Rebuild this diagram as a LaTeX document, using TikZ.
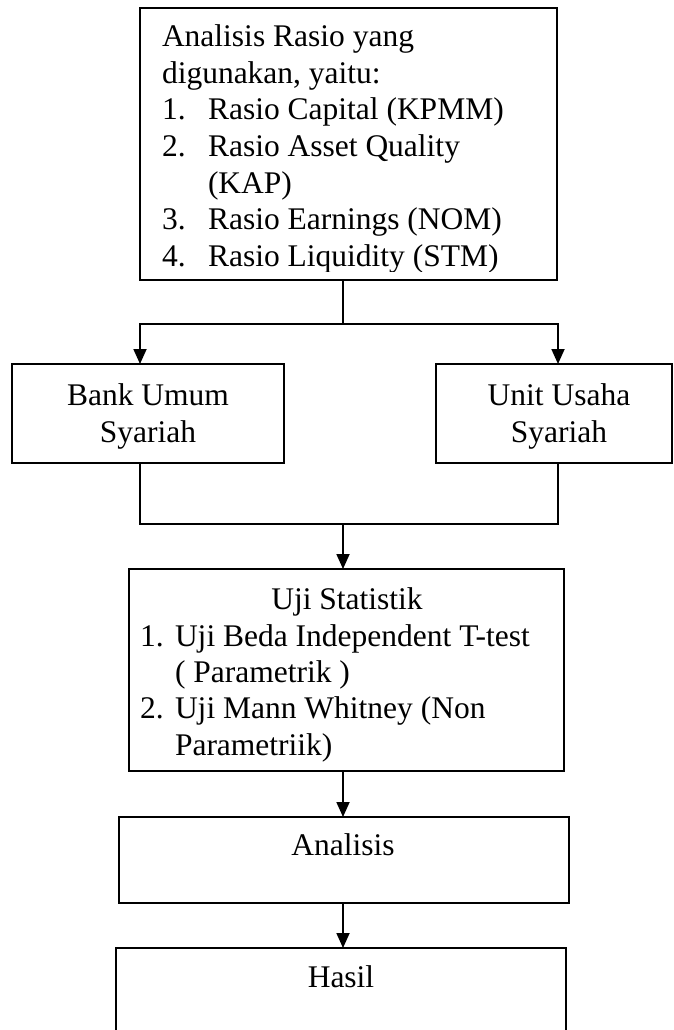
\documentclass[tikz,border=0pt]{standalone}
\usepackage{fontspec}
\setmainfont{Liberation Serif}
\usetikzlibrary{arrows.meta}
\tikzset{
  box/.style={draw=black, line width=1.8pt, inner sep=0pt, outer sep=0pt, anchor=north west, fill=white},
  conn/.style={draw=black, line width=1.8pt},
  arr/.style={conn, -{Triangle[length=15pt,width=13pt]}},
  txt/.style={inner sep=0pt, outer sep=0pt, anchor=base west, font=\fontsize{31.5}{36.5}\selectfont},
  ctxt/.style={txt, anchor=base}
}
\begin{document}
\begin{tikzpicture}[x=1pt,y=-1pt]
\useasboundingbox (0,0) rectangle (673,1030);
% boxes
\node[box, minimum width=417pt, minimum height=272pt] (T) at (140,8) {};
\node[box, minimum width=272pt, minimum height=99pt] (L) at (12,364) {};
\node[box, minimum width=236pt, minimum height=99pt] (R) at (436,364) {};
\node[box, minimum width=435pt, minimum height=202pt] (U) at (129,569) {};
\node[box, minimum width=450pt, minimum height=86pt] (A) at (119,817) {};
\node[box, minimum width=450pt, minimum height=110pt] (H) at (116,948) {};
% helper coordinates
\coordinate (xl) at (140,0);
\coordinate (xr) at (558,0);
\coordinate (J1) at (343,324);
\coordinate (J2) at (343,524);
% top box text (clipped like the original)
\begin{scope}
\clip (140,8) rectangle (557,271);
\node[txt] (t1) at (162,47) {Analisis Rasio yang};
\node[txt] (t2) at (162,83.5) {digunakan, yaitu:};
\node[txt] (n1) at (162,120) {1.};
\node[txt] (i1) at (208,120) {Rasio Capital (KPMM)};
\node[txt] (n2) at (162,156.5) {2.};
\node[txt] (i2) at (208,156.5) {Rasio Asset Quality};
\node[txt] (i2b) at (208,193) {(KAP)};
\node[txt] (n3) at (162,229.5) {3.};
\node[txt] (i3) at (208,229.5) {Rasio Earnings (NOM)};
\node[txt] (n4) at (162,266) {4.};
\node[txt] (i4) at (208,266) {Rasio Liquidity (STM)};
\end{scope}
% left / right boxes text
\node[ctxt] (l1) at (148,405) {Bank Umum};
\node[ctxt] (l2) at (148,442) {Syariah};
\node[ctxt] (r1) at (559,405) {Unit Usaha};
\node[ctxt] (r2) at (559,442) {Syariah};
% uji box text
\node[ctxt] (u0) at (347,609) {Uji Statistik};
\node[txt] (un1) at (140,646) {1.};
\node[txt] (u1) at (175,646) {Uji Beda Independent T-test};
\node[txt] (u1b) at (175,682) {( Parametrik )};
\node[txt] (un2) at (140,718) {2.};
\node[txt] (u2) at (175,718) {Uji Mann Whitney (Non};
\node[txt] (u2b) at (175,755) {Parametriik)};
% analisis / hasil text
\node[ctxt] (a1) at (343,855) {Analisis};
\node[ctxt] (h1) at (341,987) {Hasil};
% connectors
\draw[conn] (T.south -| J1) -- (J1);
\draw[arr] (J1) -| (L.north -| xl);
\draw[arr] (J1) -| (R.north -| xr);
\draw[conn] (L.south -| xl) |- (J2);
\draw[conn] (R.south -| xr) |- (J2);
\draw[arr] (J2) -- (U.north -| J2);
\draw[arr] (U.south -| J2) -- (A.north -| J2);
\draw[arr] (A.south -| J2) -- (H.north -| J2);
\end{tikzpicture}
\end{document}
